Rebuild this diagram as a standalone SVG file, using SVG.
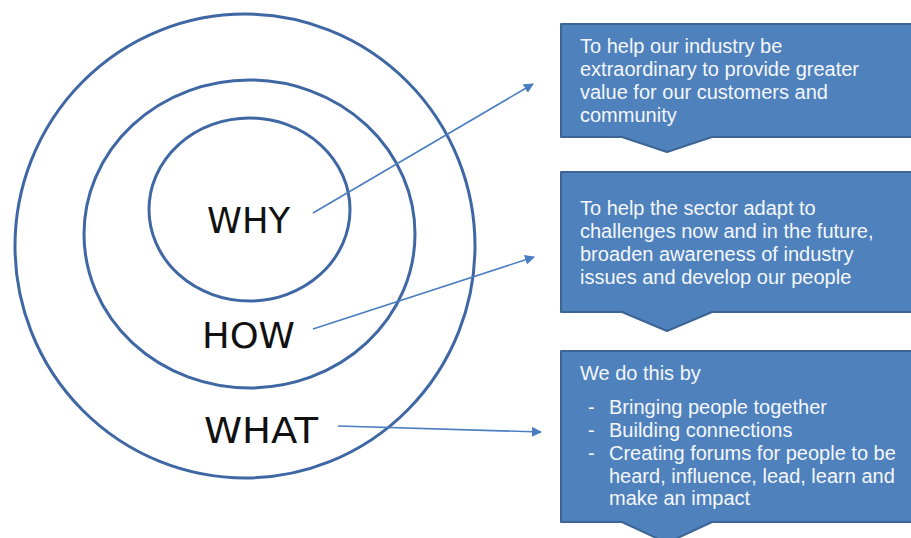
<svg xmlns="http://www.w3.org/2000/svg" width="911" height="538" viewBox="0 0 911 538">
<defs>
<style>
.ring{fill:none;stroke:#3F67A3;stroke-width:3}
.lbl{font-family:"DejaVu Sans",sans-serif;font-size:35px;fill:#111}
.box{fill:#4F81BD;stroke:#3C6596;stroke-width:2;stroke-linejoin:round}
.txt{font-family:"Liberation Sans",Arial,sans-serif;font-size:20px;fill:#F4F7FB}
.con{stroke:#4A7EC0;stroke-width:1.6;fill:none}
</style>
<marker id="ah" markerWidth="10" markerHeight="10" refX="9" refY="5" orient="auto" markerUnits="userSpaceOnUse" viewBox="0 0 10 10">
<path d="M0,0 L10,5 L0,10 Z" fill="#4A7EC0"/>
</marker>
</defs>
<rect width="911" height="538" fill="#FFFFFF"/>
<g id="rings">
<ellipse id="outer" class="ring" cx="245" cy="246" rx="230" ry="232"/>
<ellipse id="middle" class="ring" cx="249.5" cy="234" rx="165.5" ry="154"/>
<ellipse id="inner" class="ring" cx="249.5" cy="209.5" rx="100.5" ry="91.5"/>
</g>
<g id="why"><text class="lbl" x="207" y="233" textLength="83" lengthAdjust="spacingAndGlyphs">WHY</text></g>
<g id="how"><text class="lbl" x="202" y="348" textLength="93" lengthAdjust="spacingAndGlyphs">HOW</text></g>
<g id="what"><text class="lbl" x="204" y="443" textLength="114" lengthAdjust="spacingAndGlyphs">WHAT</text></g>
<g id="connectors">
<line class="con" x1="313" y1="213" x2="533" y2="84" marker-end="url(#ah)"/>
<line class="con" x1="313" y1="329" x2="534" y2="257" marker-end="url(#ah)"/>
<line class="con" x1="338" y1="426" x2="541" y2="432" marker-end="url(#ah)"/>
</g>
<g id="box-why">
<path class="box" d="M561,24 L915,24 L915,137 L712,137 L667,152 L622,137 L561,137 Z"/>
<text class="txt" x="580" y="53">To help our industry be</text>
<text class="txt" x="580" y="76">extraordinary to provide greater</text>
<text class="txt" x="580" y="99">value for our customers and</text>
<text class="txt" x="580" y="122">community</text>
</g>
<g id="box-how">
<path class="box" d="M561,172 L915,172 L915,312 L712,312 L667,331 L622,312 L561,312 Z"/>
<text class="txt" x="580" y="215">To help the sector adapt to</text>
<text class="txt" x="580" y="238">challenges now and in the future,</text>
<text class="txt" x="580" y="261">broaden awareness of industry</text>
<text class="txt" x="580" y="284">issues and develop our people</text>
</g>
<g id="box-what">
<path class="box" d="M561,351 L915,351 L915,522 L712,522 L667,543 L622,522 L561,522 Z"/>
<text class="txt" x="580" y="380">We do this by</text>
<text class="txt" x="588" y="414">-</text><text class="txt" x="609" y="414">Bringing people together</text>
<text class="txt" x="588" y="437">-</text><text class="txt" x="609" y="437">Building connections</text>
<text class="txt" x="588" y="460">-</text><text class="txt" x="609" y="460">Creating forums for people to be</text>
<text class="txt" x="609" y="483">heard, influence, lead, learn and</text>
<text class="txt" x="609" y="505">make an impact</text>
</g>
</svg>
